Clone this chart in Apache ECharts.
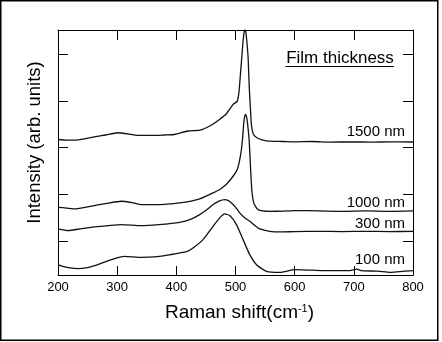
<!DOCTYPE html>
<html>
<head>
<meta charset="utf-8">
<script src="https://cdn.jsdelivr.net/npm/echarts@6/dist/echarts.min.js"></script>
<style>
  html, body { margin: 0; padding: 0; background: #fff; }
  #chart { width: 442px; height: 342px; }
</style>
</head>
<body>
<div id="chart"></div>
<script>
// Raman spectra of Si films of different thickness, stacked with vertical offsets.
// Intensity values are in offset plot units (one tick step = 1).

const xTicks = [200, 300, 400, 500, 600, 700, 800];
const yTicks = [0, 1, 2, 3, 4];
const thicknessLabels = ['1500 nm', '1000 nm', '300 nm', '100 nm'];

const shift1500 = [200, 215, 228, 245, 262, 280, 301, 318, 335, 363, 380, 397, 420, 440, 458, 473, 485, 496, 503, 506, 508.3, 510.6, 512.8, 514.5, 516, 517.5, 519.1, 521.3, 522.4, 523.6, 525.3, 527, 530, 536, 545, 558, 580, 600, 630, 660, 700, 730, 760, 800];
const int1500 = [2.174, 2.159, 2.159, 2.185, 2.232, 2.270, 2.318, 2.292, 2.260, 2.260, 2.270, 2.281, 2.356, 2.373, 2.474, 2.603, 2.732, 2.925, 2.996, 3.210, 3.569, 3.933, 4.283, 4.470, 4.52, 4.470, 4.283, 3.933, 3.569, 3.210, 2.818, 2.474, 2.292, 2.210, 2.167, 2.137, 2.131, 2.124, 2.131, 2.116, 2.124, 2.116, 2.124, 2.120];

const shift1000 = [200, 215, 230, 262, 285, 307, 325, 341, 363, 385, 405.6, 425, 439.5, 462, 473.4, 485, 495.9, 503, 507.2, 510, 511.8, 514, 515.5, 516.9, 518.5, 520.2, 523, 525.3, 527.5, 530.9, 538.2, 558, 580, 600, 640, 680, 720, 760, 800];
const int1000 = [0.721, 0.704, 0.687, 0.758, 0.811, 0.850, 0.822, 0.779, 0.779, 0.790, 0.815, 0.854, 0.901, 1.030, 1.101, 1.219, 1.386, 1.530, 1.745, 1.959, 2.174, 2.532, 2.667, 2.710, 2.667, 2.532, 2.174, 1.601, 1.101, 0.815, 0.672, 0.635, 0.639, 0.650, 0.644, 0.635, 0.644, 0.635, 0.644];

const shift300 = [200, 217, 240, 262, 285, 307, 341, 370, 405.6, 425, 439.5, 452, 462, 472, 481.8, 488, 493.2, 500, 507.2, 515, 524.1, 532, 541, 558, 575, 600, 640, 680, 720, 760, 800];
const int300 = [0.258, 0.221, 0.264, 0.300, 0.328, 0.350, 0.328, 0.350, 0.399, 0.468, 0.564, 0.672, 0.779, 0.854, 0.886, 0.865, 0.815, 0.725, 0.601, 0.500, 0.421, 0.339, 0.258, 0.206, 0.193, 0.200, 0.206, 0.200, 0.206, 0.200, 0.206];

const shift100 = [200, 211, 233, 250, 262, 290, 312, 341, 363, 385, 405.6, 417, 428.2, 445.1, 462, 473.4, 481.8, 490.3, 501.6, 512.8, 524.1, 535.5, 552.4, 575, 600, 630, 660, 693, 705, 712, 740, 762, 785, 800];
const int100 = [-0.509, -0.558, -0.594, -0.573, -0.530, -0.401, -0.330, -0.352, -0.343, -0.305, -0.258, -0.230, -0.150, 0.028, 0.313, 0.494, 0.579, 0.543, 0.350, 0.028, -0.294, -0.509, -0.652, -0.674, -0.616, -0.627, -0.637, -0.637, -0.605, -0.637, -0.648, -0.674, -0.648, -0.637];

const FONT = '"Liberation Sans", Arial, sans-serif';
const INK = '#000';

function pairs(xs, ys) { return xs.map((x, i) => [x, ys[i]]); }

function spectrum(name, xs, ys) {
  return {
    name: name,
    type: 'line',
    xAxisIndex: 0,
    yAxisIndex: 0,
    data: pairs(xs, ys),
    showSymbol: false,
    smooth: 0.2,
    lineStyle: { color: '#111', width: 1.3 },
    silent: true,
    animation: false
  };
}

const axisLineStyle = { show: true, onZero: false, lineStyle: { color: INK, width: 1 } };

const chart = echarts.init(document.getElementById('chart'), null, { renderer: 'canvas' });

chart.setOption({
  animation: false,
  backgroundColor: '#fff',
  grid: { left: 58, top: 30, right: 29, bottom: 67, containLabel: false },
  xAxis: [
    {
      type: 'value', position: 'bottom',
      min: xTicks[0], max: xTicks[xTicks.length - 1], interval: 100,
      axisLine: axisLineStyle,
      axisTick: { inside: true, length: 9, lineStyle: { color: INK } },
      axisLabel: { fontSize: 13, color: INK, margin: 6, fontFamily: FONT },
      splitLine: { show: false }
    },
    {
      type: 'value', position: 'top',
      min: xTicks[0], max: xTicks[xTicks.length - 1], interval: 100,
      axisLine: axisLineStyle,
      axisTick: { inside: true, length: 10, lineStyle: { color: INK } },
      axisLabel: { show: false },
      splitLine: { show: false }
    }
  ],
  yAxis: [
    {
      type: 'value', position: 'left',
      min: -0.73, max: 4.52,
      axisLine: axisLineStyle,
      axisTick: { inside: true, length: 10, customValues: yTicks, lineStyle: { color: INK } },
      axisLabel: { show: false },
      splitLine: { show: false }
    },
    {
      type: 'value', position: 'right',
      min: -0.73, max: 4.52,
      axisLine: axisLineStyle,
      axisTick: { inside: true, length: 10, customValues: yTicks, lineStyle: { color: INK } },
      axisLabel: { show: false },
      splitLine: { show: false }
    }
  ],
  series: [
    spectrum(thicknessLabels[0], shift1500, int1500),
    spectrum(thicknessLabels[1], shift1000, int1000),
    spectrum(thicknessLabels[2], shift300, int300),
    spectrum(thicknessLabels[3], shift100, int100)
  ],
  graphic: [
    // outer frame
    {
      type: 'rect', silent: true,
      shape: { x: 0.75, y: 0.75, width: 437, height: 339.5 },
      style: { fill: 'none', stroke: INK, lineWidth: 1.5 }
    },
    // axis titles
    {
      type: 'text', silent: true, x: 239.5, y: 313,
      style: {
        text: 'Raman shift(cm{sup|-1})',
        font: '19px ' + FONT, fill: INK, align: 'center', verticalAlign: 'middle',
        rich: { sup: { fontSize: 11, fontFamily: FONT, fill: INK, verticalAlign: 'top' } }
      }
    },
    {
      type: 'text', silent: true, x: 35, y: 142.5, rotation: Math.PI / 2,
      style: {
        text: 'Intensity (arb. units)',
        font: '18.5px ' + FONT, fill: INK, align: 'center', verticalAlign: 'middle'
      }
    },
    // legend heading
    {
      type: 'text', silent: true, x: 340, y: 58,
      style: { text: 'Film thickness', font: '17px ' + FONT, fill: INK, align: 'center', verticalAlign: 'middle' }
    },
    {
      type: 'line', silent: true,
      shape: { x1: 285.5, y1: 66.5, x2: 394, y2: 66.5 },
      style: { stroke: INK, lineWidth: 1.2 }
    },
    // per-curve thickness labels
    {
      type: 'text', silent: true, x: 405, y: 132,
      style: { text: thicknessLabels[0], font: '15px ' + FONT, fill: INK, align: 'right', verticalAlign: 'middle' }
    },
    {
      type: 'text', silent: true, x: 405, y: 202.7,
      style: { text: thicknessLabels[1], font: '15px ' + FONT, fill: INK, align: 'right', verticalAlign: 'middle' }
    },
    {
      type: 'text', silent: true, x: 405, y: 223.8,
      style: { text: thicknessLabels[2], font: '15px ' + FONT, fill: INK, align: 'right', verticalAlign: 'middle' }
    },
    {
      type: 'text', silent: true, x: 405, y: 259.5,
      style: { text: thicknessLabels[3], font: '15px ' + FONT, fill: INK, align: 'right', verticalAlign: 'middle' }
    }
  ]
});
</script>
</body>
</html>
